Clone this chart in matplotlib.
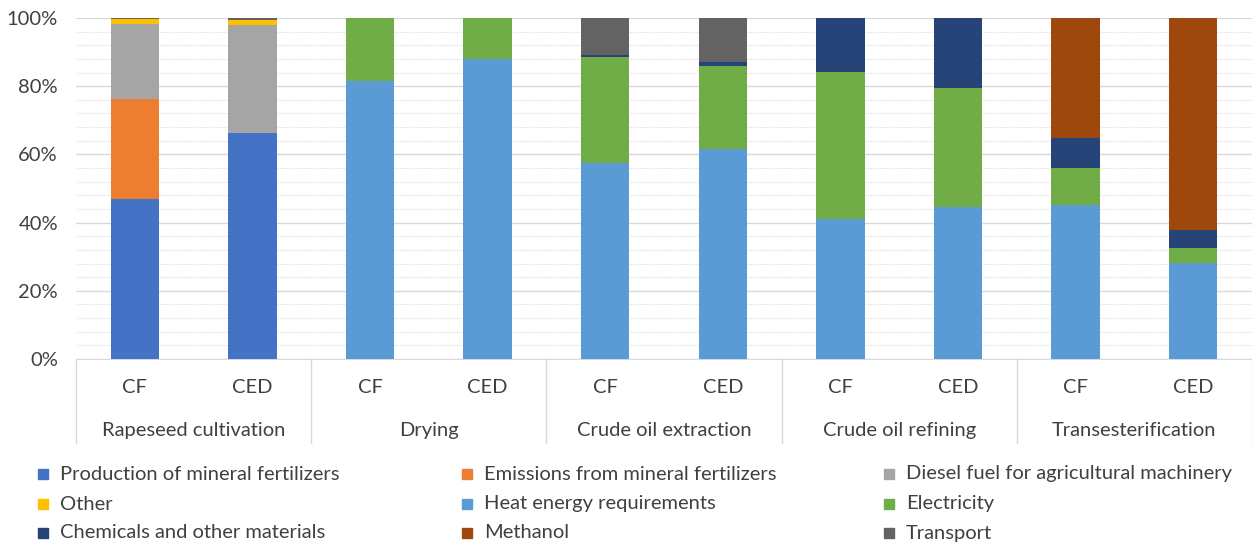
import matplotlib.pyplot as plt
import numpy as np
from matplotlib.patches import Rectangle
from matplotlib.ticker import MultipleLocator, PercentFormatter
from matplotlib.transforms import blended_transform_factory

plt.rcParams['font.family'] = ['Lato', 'DejaVu Sans']

# stages and indicators (share of total, %)
stages = ['Rapeseed cultivation', 'Drying', 'Crude oil extraction',
          'Crude oil refining', 'Transesterification']
indicators = ['CF', 'CED']

fertilizer_prod = [47.0, 66.2, 0, 0, 0, 0, 0, 0, 0, 0]
fertilizer_emis = [29.2, 0, 0, 0, 0, 0, 0, 0, 0, 0]
diesel = [22.0, 31.8, 0, 0, 0, 0, 0, 0, 0, 0]
other = [1.5, 1.5, 0, 0, 0, 0, 0, 0, 0, 0]
heat = [0, 0, 81.5, 88.0, 57.5, 61.6, 41.0, 44.6, 45.2, 28.3]
electricity = [0, 0, 18.5, 12.0, 31.1, 24.3, 43.2, 34.9, 10.8, 4.3]
chemicals = [0, 0, 0, 0, 0.5, 1.3, 15.8, 20.5, 8.8, 5.2]
methanol = [0, 0, 0, 0, 0, 0, 0, 0, 35.2, 62.2]
transport = [0.3, 0.5, 0, 0, 10.9, 12.8, 0, 0, 0, 0]

series = [
    ('Production of mineral fertilizers', fertilizer_prod, '#4472C4'),
    ('Emissions from mineral fertilizers', fertilizer_emis, '#ED7D31'),
    ('Diesel fuel for agricultural machinery', diesel, '#A5A5A5'),
    ('Other', other, '#FFC000'),
    ('Heat energy requirements', heat, '#5B9BD5'),
    ('Electricity', electricity, '#70AD47'),
    ('Chemicals and other materials', chemicals, '#264478'),
    ('Methanol', methanol, '#9E480E'),
    ('Transport', transport, '#636363'),
]

FS = 14.5

fig, ax = plt.subplots(figsize=(12.52, 5.44), dpi=100)
fig.subplots_adjust(left=0.0607, right=1.0, top=0.967, bottom=0.34)

n = len(stages) * len(indicators)
x = np.arange(n)
bottom = np.zeros(n)
for name, vals, col in series:
    vals = np.array(vals, dtype=float)
    ax.bar(x, vals, width=0.41, bottom=bottom, color=col, zorder=3)
    bottom += vals

ax.set_xlim(-0.5, n - 0.5)
ax.set_ylim(0, 100)
ax.yaxis.set_major_locator(MultipleLocator(20))
ax.yaxis.set_minor_locator(MultipleLocator(4))
ax.yaxis.set_major_formatter(PercentFormatter(decimals=0))
ax.grid(axis='y', which='major', color='#D9D9D9', lw=1, zorder=0)
ax.grid(axis='y', which='minor', color='#E6E6E6', lw=0.8, ls=(0, (2, 1)), zorder=0)
ax.tick_params(axis='y', which='both', length=0, pad=13, labelsize=FS, labelcolor='#404040')
ax.tick_params(axis='x', which='both', length=0, labelbottom=False)
for s in ['top', 'right', 'left']:
    ax.spines[s].set_visible(False)
ax.spines['bottom'].set_color('#D9D9D9')

# two-level category axis
trans = blended_transform_factory(ax.transData, ax.transAxes)
for i in range(n):
    ax.text(x[i], -0.083, indicators[i % 2], transform=trans, ha='center', va='center',
            fontsize=FS, color='#404040')
for g, st in enumerate(stages):
    ax.text(2 * g + 0.5, -0.21, st, transform=trans, ha='center', va='center',
            fontsize=FS, color='#404040')
for g in range(len(stages) + 1):
    ax.plot([2 * g - 0.5] * 2, [0, -0.247], transform=trans, color='#D9D9D9',
            lw=1, clip_on=False)

# legend laid out in three fixed-width columns
col_x = [43, 467, 889]
row_y = [474, 504, 533]
W, H = 1252, 544
for k, (name, vals, col) in enumerate(series):
    cx, cy = col_x[k % 3], row_y[k // 3]
    fig.add_artist(Rectangle(((cx - 5) / W, 1 - (cy + 5) / H), 10 / W, 10 / H,
                             transform=fig.transFigure, color=col))
    fig.text((cx + 17) / W, 1 - cy / H, name, ha='left', va='center',
             fontsize=FS, color='#404040')

fig.savefig('out.png', dpi=100)
